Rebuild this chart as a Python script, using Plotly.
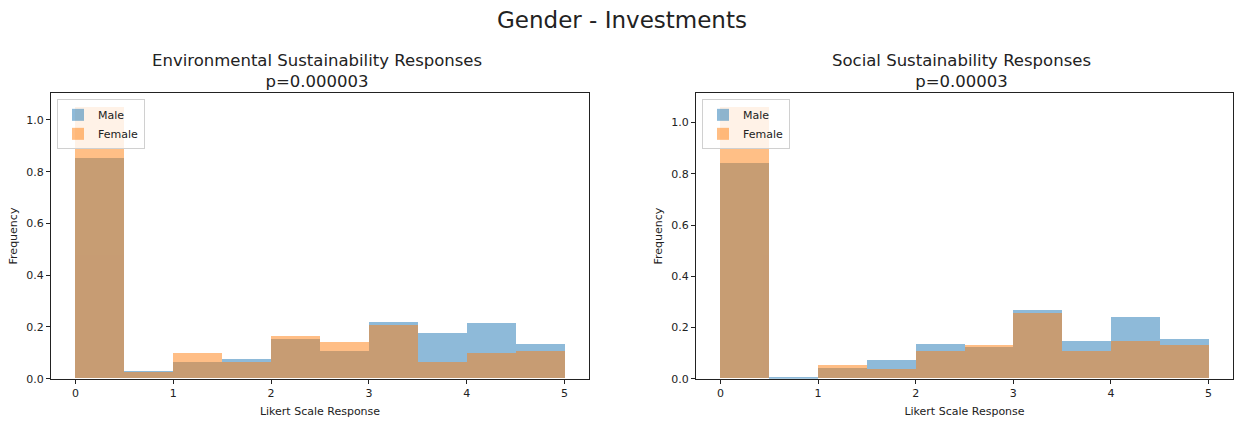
import plotly.graph_objects as go

# Histogram bins (left edges, width 0.5) on the 0-5 Likert scale
bin_left = [0.0, 0.5, 1.0, 1.5, 2.0, 2.5, 3.0, 3.5, 4.0, 4.5]
bin_width = 0.5

# Environmental sustainability: normalised frequencies
env_male = [0.851, 0.028, 0.062, 0.073, 0.152, 0.107, 0.218, 0.176, 0.215, 0.131]
env_female = [1.050, 0.024, 0.097, 0.063, 0.165, 0.141, 0.205, 0.063, 0.098, 0.107]

# Social sustainability: normalised frequencies
soc_male = [0.842, 0.005, 0.041, 0.070, 0.133, 0.122, 0.267, 0.145, 0.239, 0.153]
soc_female = [1.061, 0.000, 0.051, 0.037, 0.108, 0.128, 0.254, 0.106, 0.144, 0.128]

panel_titles = ["Environmental Sustainability Responses<br>p=0.000003",
                "Social Sustainability Responses<br>p=0.00003"]
suptitle = "Gender - Investments"
x_ticks = [0, 1, 2, 3, 4, 5]
y_ticks = [0.0, 0.2, 0.4, 0.6, 0.8, 1.0]

BLUE = "#1f77b4"
ORANGE = "#ff7f0e"
FONT = "DejaVu Sans"
W, H = 1236, 424

# panel placement in pixels
panels = [(51, 589), (696, 1233)]
y_top, y_bot = 95, 385

fig = go.Figure()

datasets = [(env_male, env_female), (soc_male, soc_female)]
for i, (male, female) in enumerate(datasets):
    ax = "" if i == 0 else "2"
    leg = "legend" if i == 0 else "legend2"
    for name, vals, col in (("Male", male, BLUE), ("Female", female, ORANGE)):
        fig.add_trace(go.Bar(
            x=bin_left, y=vals, width=bin_width, offset=0,
            name=name, marker=dict(color=col, line=dict(width=0)),
            opacity=0.5, xaxis="x" + ax, yaxis="y" + ax,
            legend=leg, hoverinfo="skip",
        ))

axis_common = dict(
    showgrid=False, zeroline=False, showline=True, mirror=True,
    linecolor="#222", linewidth=1, ticks="outside", ticklen=4,
    tickcolor="#222", tickfont=dict(family=FONT, size=11, color="#222"),
)

layout = dict(
    width=W, height=H, margin=dict(l=0, r=0, t=0, b=0),
    paper_bgcolor="white", plot_bgcolor="white",
    barmode="overlay", bargap=0,
    font=dict(family=FONT, color="#222"),
)

annotations = [dict(
    text=suptitle, x=622 / W, y=1 - 20 / H, xref="paper", yref="paper",
    xanchor="center", yanchor="middle", showarrow=False,
    font=dict(family=FONT, size=23, color="#222"),
)]

for i, (x0, x1) in enumerate(panels):
    ax = "" if i == 0 else "2"
    ymax = max(datasets[i][0] + datasets[i][1]) * 1.05
    layout["xaxis" + ax] = dict(
        axis_common, domain=[x0 / W, x1 / W], range=[-0.25, 5.25],
        tickvals=x_ticks, anchor="y" + ax,
        title=dict(text="Likert Scale Response", standoff=8,
                   font=dict(family=FONT, size=11, color="#222")),
    )
    layout["yaxis" + ax] = dict(
        axis_common, domain=[1 - y_bot / H, 1 - y_top / H], range=[0, ymax],
        tickvals=y_ticks, tickformat=".1f", anchor="x" + ax,
        title=dict(text="Frequency", standoff=6,
                   font=dict(family=FONT, size=11, color="#222")),
    )
    layout["legend" if i == 0 else "legend2"] = dict(
        x=(x0 + 6) / W, y=1 - (y_top + 6) / H, xanchor="left", yanchor="top",
        xref="paper", yref="paper",
        bgcolor="rgba(255,255,255,0.8)", bordercolor="#d0d0d0", borderwidth=1,
        font=dict(family=FONT, size=11, color="#222"),
        tracegroupgap=0, itemclick=False, itemdoubleclick=False,
    )
    annotations.append(dict(
        text=panel_titles[i], x=((x0 + x1) / 2 - 3) / W, y=1 - y_top / H,
        xref="paper", yref="paper", xanchor="center", yanchor="bottom",
        showarrow=False, font=dict(family=FONT, size=16.5, color="#222"),
    ))

layout["annotations"] = annotations
fig.update_layout(**layout)
fig.write_html("out.html", config={"displayModeBar": False})
